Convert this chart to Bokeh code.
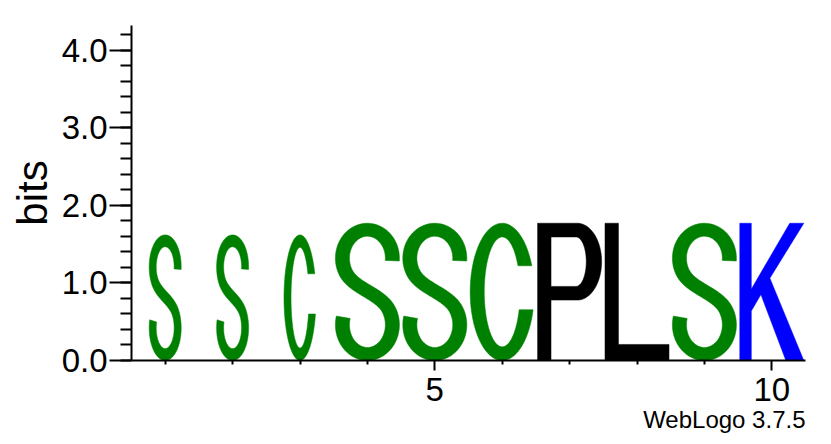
import numpy as np
from bokeh.plotting import figure
from bokeh.models import FixedTicker, PrintfTickFormatter, Title, ColumnDataSource, Range1d
from bokeh.embed import file_html
from bokeh.resources import INLINE

# ---------------- data ----------------
positions = [1, 2, 3, 4, 5, 6, 7, 8, 9, 10]
letters = ["S", "S", "C", "S", "S", "C", "P", "L", "S", "K"]
heights_bits = [1.62, 1.62, 1.62, 1.77, 1.77, 1.77, 1.77, 1.77, 1.77, 1.77]
stack_width = [0.5, 0.5, 0.5, 1, 1, 1, 1, 1, 1, 1]
x_major_ticks = [5, 10]
y_major_ticks = [0, 1, 2, 3, 4]
y_max = 4.32  # log2(20)

colors = {"S": "#008000", "C": "#008000", "P": "#000000",
          "L": "#000000", "K": "#0000ff"}

FONT = "Liberation Sans"


# ---------------- glyph outlines (unit box) ----------------
def stroke(cx, cy, tx, ty):
    u, v = np.asarray(cx) / tx, np.asarray(cy) / ty
    du, dv = np.gradient(u), np.gradient(v)
    n = np.hypot(du, dv)
    nu, nv = -dv / n, du / n
    lu, lv = u + 0.5 * nu, v + 0.5 * nv
    ru, rv = u - 0.5 * nu, v - 0.5 * nv
    x = np.concatenate([lu, ru[::-1]]) * tx
    y = np.concatenate([lv, rv[::-1]]) * ty
    return [(list(x), list(y))]


def shape_S():
    tx, ty = 0.22, 0.095
    rx = 0.5 - tx / 2
    ucy, ury = 0.745, 0.255 - ty / 2
    lcy, lry = 0.26, 0.26 - ty / 2
    t1 = np.radians(np.linspace(-5, 215, 70))
    ux, uy = 0.5 + rx * np.cos(t1), ucy + ury * np.sin(t1)
    a0 = np.radians(215)
    a1 = np.radians(35)
    P0 = np.array([ux[-1], uy[-1]])
    T0 = np.array([-rx * np.sin(a0), ury * np.cos(a0)])
    P3 = np.array([0.5 + rx * np.cos(a1), lcy + lry * np.sin(a1)])
    T1 = np.array([rx * np.sin(a1), -lry * np.cos(a1)])
    P1 = P0 + 0.6 * T0
    P2 = P3 - 0.6 * T1
    s = np.linspace(0, 1, 22)[1:-1][:, None]
    bez = ((1 - s) ** 3) * P0 + 3 * ((1 - s) ** 2) * s * P1 + 3 * (1 - s) * s ** 2 * P2 + s ** 3 * P3
    t2 = np.radians(np.linspace(35, -195, 70))
    lx, ly = 0.5 + rx * np.cos(t2), lcy + lry * np.sin(t2)
    cx = np.concatenate([ux, bez[:, 0], lx])
    cy = np.concatenate([uy, bez[:, 1], ly])
    return stroke(cx, cy, tx, ty)


def shape_C():
    orx, ory = 0.5, 0.5
    irx, iry = 0.28, 0.40
    yt, yb = 0.69, 0.37
    ot = np.degrees(np.arcsin((yt - 0.5) / ory))
    it = np.degrees(np.arcsin((yt - 0.5) / iry))
    ob = 360 + np.degrees(np.arcsin((yb - 0.5) / ory))
    ib = 360 + np.degrees(np.arcsin((yb - 0.5) / iry))
    to = np.radians(np.linspace(ot, ob, 100))
    ti = np.radians(np.linspace(ib, it, 100))
    x = np.concatenate([0.5 + orx * np.cos(to), 0.5 + irx * np.cos(ti)])
    y = np.concatenate([0.5 + ory * np.sin(to), 0.5 + iry * np.sin(ti)])
    return [(list(x), list(y))]


def shape_P():
    t = np.radians(np.linspace(90, -90, 50))
    ox = [0, 0, 0.62] + list(0.62 + 0.38 * np.cos(t)) + [0.21, 0.21]
    oy = [0, 1, 1] + list(0.72 + 0.28 * np.sin(t)) + [0.44, 0]
    hx = [0.21, 0.21, 0.60] + list(0.60 + 0.16 * np.cos(t)) + [0.21]
    hy = [0.54, 0.90, 0.90] + list(0.72 + 0.18 * np.sin(t)) + [0.54]
    return [(ox, oy), (hx, hy)]


def shape_L():
    return [([0, 0, 0.21, 0.21, 1, 1], [0, 1, 1, 0.117, 0.117, 0])]


def shape_K():
    x = [0, 0, 0.18, 0.18, 0.78, 1.0, 0.47, 1.0, 0.72, 0.33, 0.18, 0.18]
    y = [0, 1, 1, 0.52, 1, 1, 0.6, 0, 0, 0.48, 0.36, 0]
    return [(x, y)]


SHAPES = {"S": shape_S(), "C": shape_C(), "P": shape_P(),
          "L": shape_L(), "K": shape_K()}

# ---------------- build letter polygons in data space ----------------
xs, ys, cols = [], [], []
for pos, let, h, w in zip(positions, letters, heights_bits, stack_width):
    ww = w * 0.95
    left = pos - ww / 2
    rings_x, rings_y = [], []
    for rx_, ry_ in SHAPES[let]:
        rings_x.append([left + ww * a for a in rx_])
        rings_y.append([h * b for b in ry_])
    xs.append([rings_x])
    ys.append([rings_y])
    cols.append(colors[let])

src = ColumnDataSource(dict(xs=xs, ys=ys, color=cols))

p = figure(width=831, height=444, output_backend="svg", toolbar_location=None,
           x_range=Range1d(0.5, 10.5), y_range=Range1d(0, y_max),
           min_border_left=131, min_border_right=26, min_border_top=25,
           min_border_bottom=84)
p.multi_polygons(xs="xs", ys="ys", fill_color="color", line_color="color",
                 line_width=0.5, source=src)

p.xgrid.visible = False
p.ygrid.visible = False
p.outline_line_color = None
p.background_fill_color = "white"
p.border_fill_color = "white"

# x axis
xa = p.xaxis[0]
xa.ticker = FixedTicker(ticks=x_major_ticks,
                        minor_ticks=[v for v in positions if v not in x_major_ticks])
xa.axis_line_width = 2
xa.major_tick_line_width = 2
xa.minor_tick_line_width = 2
xa.major_tick_out = 10
xa.major_tick_in = 0
xa.minor_tick_out = 4
xa.minor_tick_in = 0
xa.major_label_text_font = FONT
xa.major_label_text_font_size = "33px"
xa.major_label_text_color = "black"
xa.major_label_standoff = 7

# y axis
ya = p.yaxis[0]
ya.ticker = FixedTicker(ticks=y_major_ticks,
                        minor_ticks=list(np.round(np.arange(0, y_max, 0.2), 1)))
ya.formatter = PrintfTickFormatter(format="%.1f")
ya.axis_line_width = 2
ya.major_tick_line_width = 2
ya.minor_tick_line_width = 2
ya.major_tick_out = 22
ya.major_tick_in = 0
ya.minor_tick_out = 11
ya.minor_tick_in = 0
ya.major_label_text_font = FONT
ya.major_label_text_font_size = "33px"
ya.major_label_text_color = "black"
ya.major_label_standoff = 2
ya.axis_label = "bits"
ya.axis_label_text_font = FONT
ya.axis_label_text_font_size = "42px"
ya.axis_label_text_font_style = "normal"
ya.axis_label_text_color = "black"
ya.axis_label_standoff = 3

credit = Title(text="WebLogo 3.7.5", align="right", text_font=FONT,
               text_font_size="24px", text_font_style="normal",
               text_color="black", standoff=0, offset=0)
p.add_layout(credit, "below")

open("out.html", "w").write(file_html(p, INLINE))
